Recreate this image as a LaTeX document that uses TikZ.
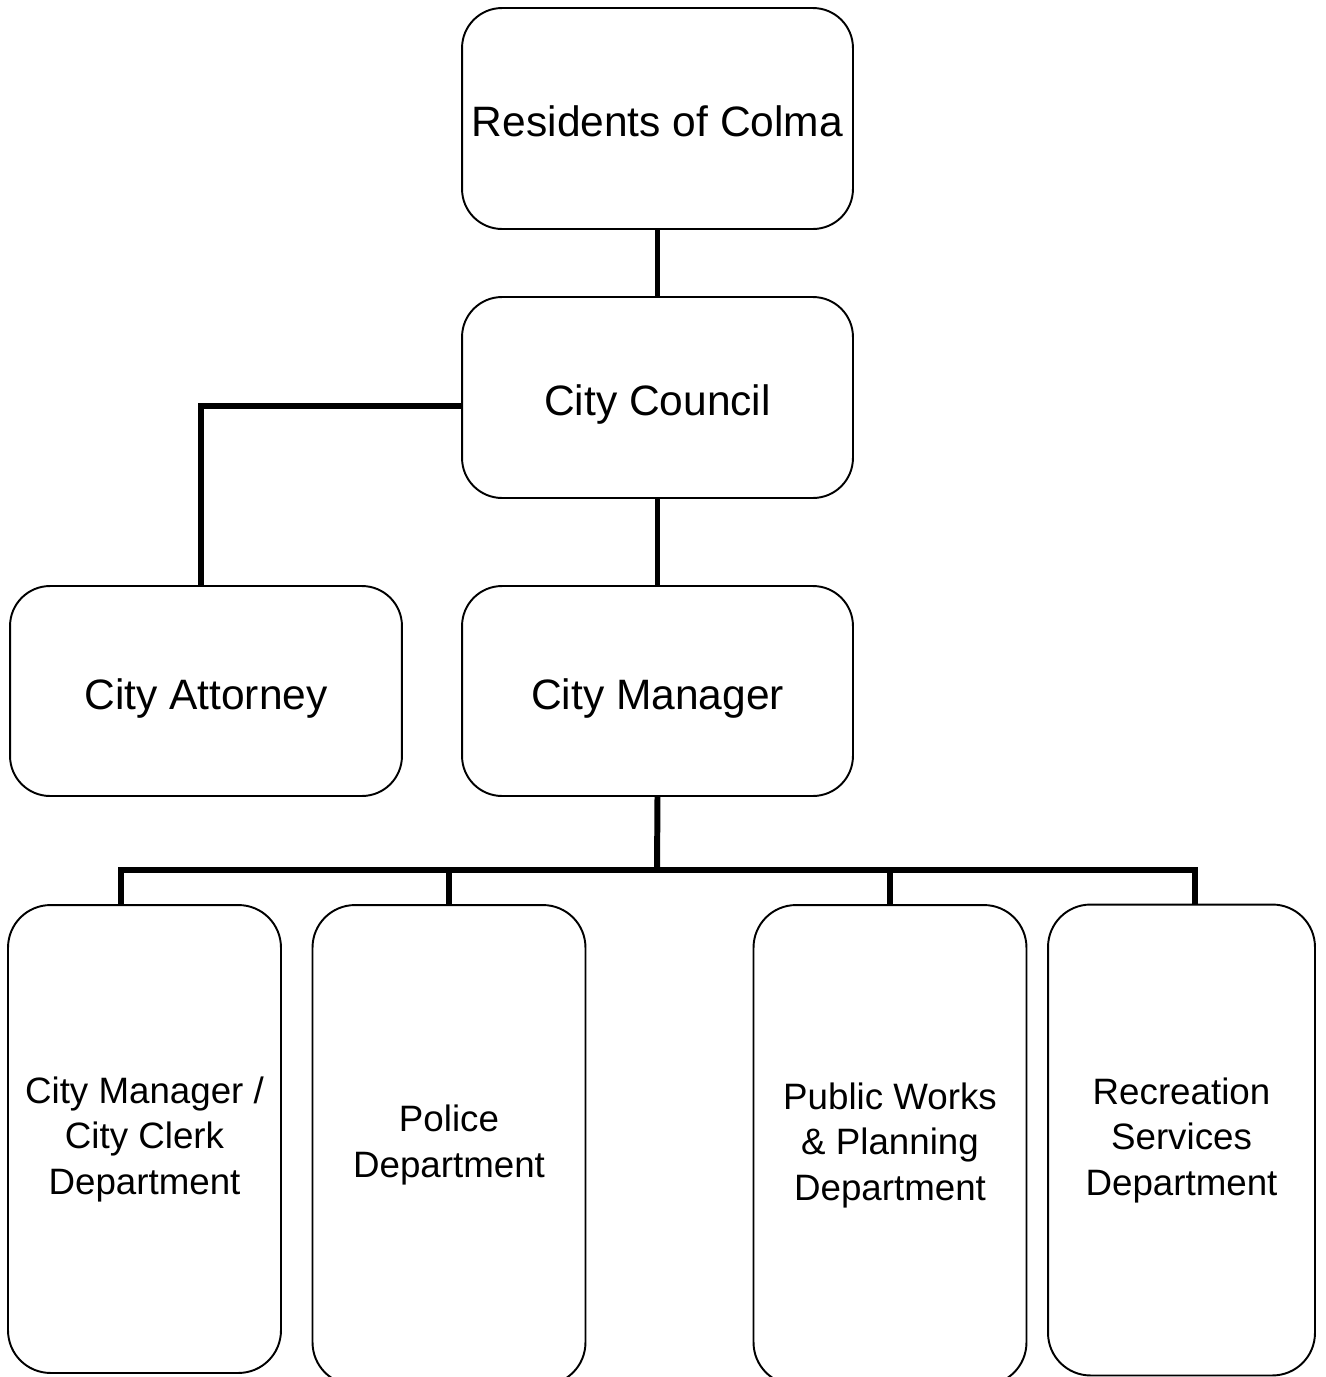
\documentclass[tikz,border=0pt]{standalone}
\usepackage{fontspec}
\setmainfont{Liberation Sans}
\begin{document}
\begin{tikzpicture}[x=0.02cm,y=-0.02cm,
  topbox/.style={draw, line width=1.1pt, rounded corners=0.8cm, align=center, inner sep=0pt,
    text height=0.72cm, text depth=0pt,
    font=\fontsize{24.2pt}{29pt}\selectfont},
  botbox/.style={draw, line width=1.1pt, rounded corners=0.85cm, align=center, inner sep=0pt,
    font=\fontsize{20.9pt}{25.9pt}\selectfont, minimum width=5.46cm},
  conn/.style={line width=3.4pt, line join=miter}]
\useasboundingbox (0,0) rectangle (1326,1377);
\clip (0,0) rectangle (1326,1377);
\node[topbox, minimum width=7.82cm, minimum height=4.42cm] (res) at (657.5,118.5) {Residents of Colma};
\node[topbox, minimum width=7.82cm, minimum height=4.02cm] (council) at (657.5,397.5) {City Council};
\node[topbox, minimum width=7.84cm, minimum height=4.2cm] (attorney) at (206,691) {City Attorney};
\node[topbox, minimum width=7.82cm, minimum height=4.2cm] (manager) at (657.5,691) {City Manager};
\node[botbox, minimum height=9.36cm] (b1) at (144.5,1139) {City Manager /\\City Clerk\\Department};
\node[botbox, minimum height=9.6cm] (b2) at (449,1145) {Police\\Department};
\node[botbox, minimum height=9.6cm] (b3) at (890,1145) {Public Works\\\& Planning\\Department};
\node[botbox, minimum width=5.34cm, minimum height=9.42cm] (b4) at (1181.5,1140) {Recreation\\Services\\Department};
\coordinate (bus) at (657,870);
\draw[conn] (res) -- (council);
\draw[conn] (council) -- (manager);
\draw[conn] ([yshift=-0.17cm]council.west) -| ([xshift=-0.1cm]attorney.north);
\draw[conn] (manager.south) -- (bus);
\draw[conn] ([xshift=-0.47cm]b1.north) |- ([xshift=0.27cm]b4.north |- bus) -- ([xshift=0.27cm]b4.north);
\draw[conn] (b2.north) -- (b2.north |- bus);
\draw[conn] (b3.north) -- (b3.north |- bus);
\end{tikzpicture}
\end{document}
